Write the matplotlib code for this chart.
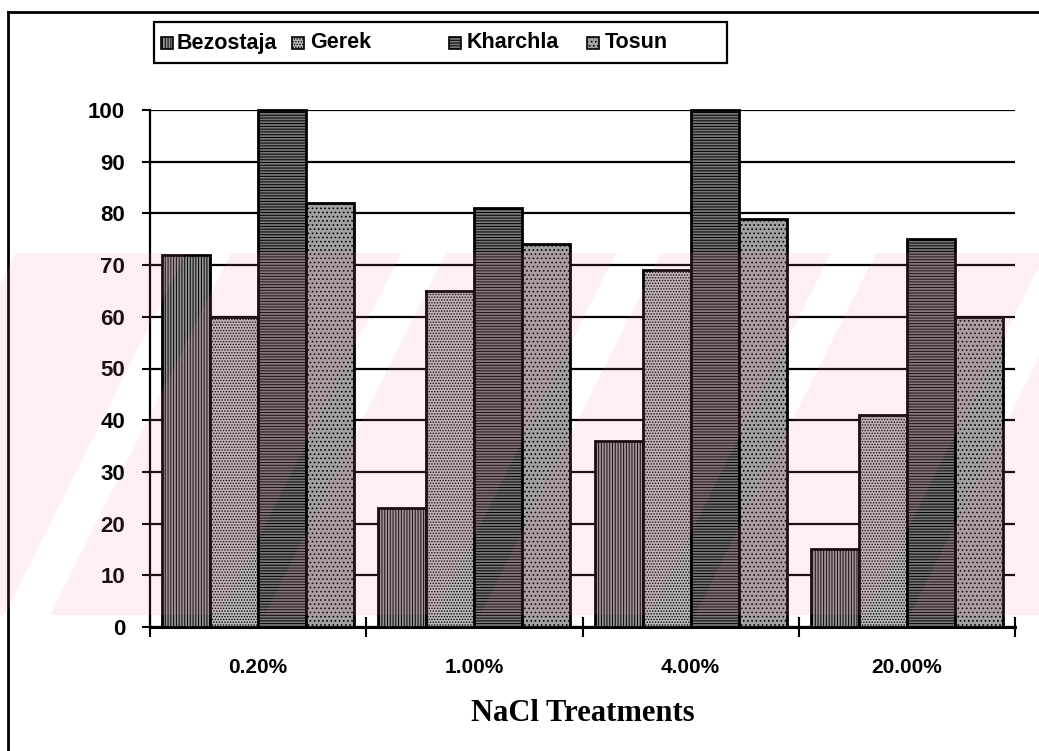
import matplotlib
matplotlib.use("Agg")
import matplotlib.pyplot as plt
import matplotlib.patches as patches
from matplotlib.lines import Line2D
import numpy as np

# data
treatments = ["0.20%", "1.00%", "4.00%", "20.00%"]
cultivars = ["Bezostaja", "Gerek", "Kharchla", "Tosun"]
bezostaja = [72, 23, 36, 15]
gerek = [60, 65, 69, 41]
kharchla = [100, 81, 100, 75]
tosun = [82, 74, 79, 60]
yticks = [0, 10, 20, 30, 40, 50, 60, 70, 80, 90, 100]

series = [bezostaja, gerek, kharchla, tosun]
faces = ['#959595', '#bababa', '#767676', '#a2a2a2']
hatches = ['||||||', '......', '------', '....']

W, H = 1039, 751
plt.rcParams['hatch.linewidth'] = 0.7
plt.rcParams['font.family'] = ['Liberation Sans', 'DejaVu Sans']

fig = plt.figure(figsize=(W / 100, H / 100), dpi=100)
ax = fig.add_axes([150 / W, 1 - 627 / H, (1015 - 150) / W, (627 - 110) / H])
ax.set_facecolor('none')

x = np.arange(len(treatments))
bw = 0.222
offsets = [-1.5 * bw, -0.5 * bw, 0.5 * bw, 1.5 * bw]
for vals, off, fc, h in zip(series, offsets, faces, hatches):
    ax.bar(x + off, vals, width=bw, color=fc, edgecolor='black',
           linewidth=2.0, hatch=h, zorder=3, clip_on=False)

ax.set_xlim(-0.5, len(treatments) - 0.5)
ax.set_ylim(0, 100)
ax.set_yticks(yticks)
ax.set_yticklabels([str(t) for t in yticks], fontweight='bold')
ax.yaxis.grid(True, color='black', linewidth=1.6)
ax.set_axisbelow(True)
ax.tick_params(axis='y', direction='out', length=6, width=1.5, pad=12, labelsize=16)

ax.set_xticks(np.arange(len(treatments) + 1) - 0.5)
ax.set_xticklabels([])
ax.set_xticks(x, minor=True)
ax.set_xticklabels(treatments, minor=True, fontweight='bold')
ax.tick_params(axis='x', which='major', direction='inout', length=14, width=1.5)
ax.tick_params(axis='x', which='minor', length=0, pad=22, labelsize=15)

ax.set_xlabel("NaCl Treatments", family='Liberation Serif', fontsize=22,
              fontweight='bold', labelpad=16)

for s in ['top', 'right']:
    ax.spines[s].set_visible(False)
ax.spines['left'].set_linewidth(1.6)
ax.spines['bottom'].set_linewidth(2.2)

# legend drawn as a framed row, like the original
fig.patches.append(patches.Rectangle((154 / W, 1 - 63 / H), (727 - 154) / W, 41 / H,
                                     transform=fig.transFigure, fill=False,
                                     edgecolor='black', linewidth=1.6))
mark_x = [161, 292, 449, 587]
text_x = [177, 310, 467, 605]
for name, mx, tx, fc, h in zip(cultivars, mark_x, text_x, faces, hatches):
    fig.patches.append(patches.Rectangle((mx / W, 1 - 49 / H), 12 / W, 12 / H,
                                         transform=fig.transFigure, facecolor=fc,
                                         edgecolor='black', linewidth=1.2, hatch=h))
    fig.text(tx / W, 1 - 43 / H, name, fontsize=15.5, fontweight='bold',
             va='center', ha='left')

# outer frame (top and left edges of the scan)
fig.lines.append(Line2D([8 / W, 1], [1 - 12 / H, 1 - 12 / H],
                        transform=fig.transFigure, color='black', linewidth=2))
fig.lines.append(Line2D([8 / W, 8 / W], [0, 1 - 12 / H],
                        transform=fig.transFigure, color='black', linewidth=2))

# faint pink watermark band with diagonal gaps
y0, y1, ym = 253, 615, 434
centers = [-97, 118, 333, 548, 763, 978, 1193]
gap = 45
for c0, c1 in zip(centers[:-1], centers[1:]):
    pts = []
    for yy, xs in [(y0, [c0 + gap / 2, c1 - gap / 2]), (y1, [c1 - gap / 2, c0 + gap / 2])]:
        for xx in xs:
            xx = xx + 0.5 * (ym - yy)
            pts.append((xx / W, 1 - yy / H))
    fig.patches.append(patches.Polygon(pts, closed=True, transform=fig.transFigure,
                                       facecolor='#f08098', edgecolor='none',
                                       alpha=0.12, zorder=10))

fig.savefig("out.png", dpi=100)
